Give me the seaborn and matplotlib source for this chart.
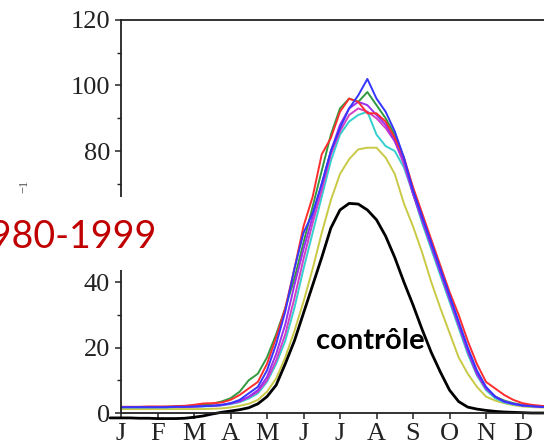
import matplotlib
matplotlib.use("Agg")
import matplotlib.pyplot as plt
import seaborn as sns
import pandas as pd
from matplotlib.patches import Rectangle

# ---------------- data ----------------
months = ['J', 'F', 'M', 'A', 'M', 'J', 'J', 'A', 'S', 'O', 'N', 'D']
month_pos = [0, 1, 2, 3, 4, 5, 6, 7, 8, 9, 10, 11]
yticks = [0, 20, 40, 60, 80, 100, 120]
ytick_labels = ['0', '20', '40', '', '80', '100', '120']   # 60 is hidden under the period box

grid = [0.0, 0.25, 0.5, 0.75, 1.0, 1.25, 1.5, 1.75, 2.0, 2.25, 2.5, 2.75,
        3.0, 3.25, 3.5, 3.75, 4.0, 4.25, 4.5, 4.75, 5.0, 5.25, 5.5, 5.75,
        6.0, 6.25, 6.5, 6.75, 7.0, 7.25, 7.5, 7.75, 8.0, 8.25, 8.5, 8.75,
        9.0, 9.25, 9.5, 9.75, 10.0, 10.25, 10.5, 10.75, 11.0, 11.25, 11.5, 11.75]

green = [1.8, 1.8, 1.8, 1.8, 1.8, 1.9, 1.9, 2.0, 2.2,
         2.5, 2.8, 3.5, 4.5, 6.5, 10, 12, 17, 24, 32, 41, 52, 63, 74, 85, 93, 96, 95, 98, 94,
         90, 85, 78, 67, 59, 51, 43, 35, 27, 19, 12, 7.5, 5, 3.8, 3, 2.5, 2.2, 2.0, 1.9]
red = [1.9, 1.9, 1.9, 2.0, 2.0, 2.0, 2.1, 2.2, 2.5,
       2.9, 3.0, 3.2, 4.0, 5.5, 7.5, 9.5, 15, 23, 32, 44, 57, 66, 79, 84, 92, 96, 95, 91.5, 91.5,
       89, 84, 78, 69, 61, 53, 45, 37, 30, 22, 15, 9.5, 7.5, 5.5, 4, 3, 2.5, 2.2, 2.0]
blue = [1.8, 1.8, 1.8, 1.8, 1.8, 1.8, 1.9, 1.9, 2.0,
        2.1, 2.2, 2.5, 3.0, 4.0, 6.0, 8.0, 13, 21, 31, 44, 55, 61, 70, 80, 87, 93, 97, 102, 96,
        92, 86, 78, 68, 60, 52, 44, 36, 28, 20, 13, 8, 5, 3.5, 2.8, 2.3, 2.1, 1.9, 1.8]
violet = [1.8, 1.8, 1.8, 1.8, 1.8, 1.8, 1.9, 1.9, 2.0,
          2.1, 2.2, 2.4, 2.9, 3.6, 5.0, 7.0, 11, 18, 27, 39, 50, 60, 70, 80, 88, 93, 95, 94, 91,
          88, 83, 77, 67, 59, 51, 43, 35, 27, 19, 12, 7.5, 5, 3.5, 2.8, 2.3, 2.1, 1.9, 1.8]
magenta = [1.8, 1.8, 1.8, 1.8, 1.8, 1.8, 1.9, 1.9, 2.0,
           2.1, 2.2, 2.4, 2.9, 3.5, 4.8, 6.5, 10, 16, 24, 35, 47, 58, 68, 79, 86, 91, 93, 92, 90,
           87, 83, 76, 67, 59, 51, 43, 35, 27, 19, 12, 7.5, 5, 3.5, 2.8, 2.3, 2.1, 1.9, 1.8]
cyan = [1.7, 1.7, 1.7, 1.7, 1.7, 1.7, 1.8, 1.8, 1.9,
        2.0, 2.1, 2.3, 2.7, 3.3, 4.4, 6.0, 9.5, 15, 22, 32, 44, 55, 66, 77, 85, 89, 91, 92, 85,
        81.5, 80, 75, 67, 58, 50, 42, 34, 26, 18, 11.5, 7, 4.5, 3.2, 2.6, 2.2, 2.0, 1.9, 1.8]
yellow = [1.2, 1.2, 1.2, 1.2, 1.2, 1.2, 1.2, 1.2, 1.2,
          1.2, 1.3, 1.4, 1.7, 2.2, 2.8, 4.0, 6.5, 10.5, 17, 25, 34, 44, 55, 65, 73, 77.5, 80.5, 81, 81,
          78, 73, 64, 57, 49, 40, 32, 24.5, 17, 12, 8, 5, 3.8, 3, 2.4, 2.0, 1.8, 1.7, 1.6]

ctrl_x = [-0.3] + grid
control = [-1.5,
           -1.5, -1.5, -1.6, -1.6, -1.7, -1.7, -1.7, -1.6, -1.3,
           -0.9, -0.3, 0.2, 0.6, 1.0, 1.6, 2.8, 5, 8.5, 15, 22, 30.5, 39, 47.5, 56.5, 62, 64, 63.8, 62,
           59, 54, 47.5, 40, 33, 25.5, 18.5, 12.5, 7, 3.5, 1.8, 1.2, 0.8, 0.5, 0.3, 0.2, 0.1, 0, 0, 0]

series = [("yellow", yellow, "#c9c945"),
          ("cyan", cyan, "#35cfcf"),
          ("green", green, "#2f9a3f"),
          ("magenta", magenta, "#d03fc4"),
          ("violet", violet, "#9a2ff0"),
          ("red", red, "#ff2d2d"),
          ("blue", blue, "#3535ff")]

# ---------------- figure ----------------
sns.set_theme(style="ticks")
plt.rcParams['font.family'] = ['Liberation Serif', 'DejaVu Serif']

W, H = 544, 448
fig = plt.figure(figsize=(W / 100, H / 100), dpi=100)
ax = fig.add_axes([121 / W, 1 - 413 / H, (W - 121) / W, (413 - 20) / H])

for name, vals, col in series:
    sns.lineplot(x=grid, y=vals, ax=ax, color=col, lw=1.4, legend=False)

sns.lineplot(x=ctrl_x, y=control, ax=ax, color="black", lw=2.0, legend=False)
ax.lines[-1].set_clip_on(False)

ax.set_xlim(0, (W - 121) / 36.5)
ax.set_ylim(0, 120)
ax.set_xticks(month_pos)
ax.set_xticklabels(months)
ax.set_yticks(yticks)
ax.set_yticklabels(ytick_labels)
ax.set_yticks([10, 30, 50, 70, 90, 110], minor=True)
ax.tick_params(axis='both', which='major', direction='out', length=4, width=1.1,
               labelsize=19, color='#222222', labelcolor='#222222', pad=4)
ax.tick_params(axis='y', which='minor', direction='out', length=3, width=1.0, color='#222222')
ax.tick_params(axis='x', pad=3)
for s in ['left', 'bottom', 'top']:
    ax.spines[s].set_color('#222222')
    ax.spines[s].set_linewidth(1.3)
ax.spines['right'].set_visible(False)
ax.set_xlabel("")
ax.set_ylabel("")

# label overlay (white box with period text)
fig.text(24 / W, 1 - 186 / H, "\u22121", rotation=90, fontsize=9, color='#555555',
         ha='center', va='center', family=['Liberation Serif', 'DejaVu Sans'])
fig.patches.append(Rectangle((0, 1 - 270 / H), 165 / W, 73 / H, transform=fig.transFigure,
                             facecolor='white', edgecolor='none', zorder=5))
fig.text(157 / W, 1 - 248 / H, "1980-1999", color='#c00000', fontsize=27,
         ha='right', va='baseline', family=['Lato', 'DejaVu Sans'], zorder=6)
fig.text(370 / W, 1 - 349 / H, "contrôle", color='black', fontsize=21, fontweight='bold',
         ha='center', va='baseline', family=['Lato', 'DejaVu Sans'], zorder=6)

fig.savefig("out.png", dpi=100)
